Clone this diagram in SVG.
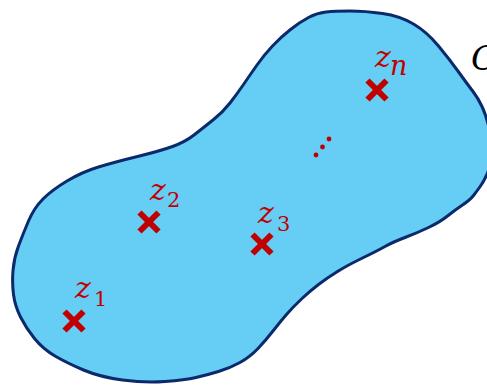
<svg xmlns="http://www.w3.org/2000/svg" width="487" height="385" viewBox="0 0 487 385">
<style>
.blob{fill:#66CDF5;stroke:#0B2A6B;stroke-width:3;stroke-linejoin:round}
.x{stroke:#C00000;stroke-width:6;stroke-linecap:butt}
.z{font-family:"DejaVu Serif",serif;font-style:italic;font-size:30px;fill:#C00000}
.sub{font-family:"DejaVu Serif",serif;font-size:21px;fill:#C00000}
.subi{font-family:"DejaVu Serif",serif;font-style:italic;font-size:27px;fill:#C00000}
.c{font-family:"DejaVu Serif",serif;font-style:italic;font-size:34px;fill:#000}
.dot{fill:#C00000}
</style>
<defs>
<g id="xm"><line class="x" x1="-9.5" y1="-9.5" x2="9.5" y2="9.5"/><line class="x" x1="-9.5" y1="9.5" x2="9.5" y2="-9.5"/></g>
</defs>
<g id="region">
<path class="blob" d="M308.5,17.5 Q317,13 326,12 Q335,11 350,11 Q365,11 382.5,13.5 Q400,16 413.5,24 Q427,32 438.5,46 Q450,60 459,72.5 Q468,85 473,91.5 Q478,98 482,106.5 Q486,115 489,127.5 Q492,140 491.5,152.5 Q491,165 487.5,173 Q484,181 480.5,186 Q477,191 473.5,195.5 Q470,200 462.5,205 Q455,210 447.5,216 Q440,222 428.5,227.5 Q417,233 405,237.5 Q393,242 385,246.5 Q377,251 362.5,258 Q348,265 337.5,271.5 Q327,278 318.5,284.5 Q310,291 301.5,299 Q293,307 286.5,314.5 Q280,322 273,331 Q266,340 258,348.5 Q250,357 240,362.5 Q230,368 218.5,371.5 Q207,375 196,377.5 Q185,380 165,381.5 Q145,383 122.5,380 Q100,377 83.5,370 Q67,363 55,356 Q43,349 34.5,338.5 Q26,328 20.5,317 Q15,306 13.5,294.5 Q12,283 13,270.5 Q14,258 18.5,246 Q23,234 28.5,221 Q34,208 43,199 Q52,190 67,181 Q82,172 98.5,167 Q115,162 137.5,156.5 Q160,151 172.5,146.5 Q185,142 194,135 Q203,128 213,120 Q223,112 230,103 Q237,94 243.5,84.5 Q250,75 257,65 Q264,55 272.5,46 Q281,37 290.5,29.5 Q300,22 308.5,17.5 Z"/>
</g>
<g id="label-C"><text class="c" x="471" y="70">C</text></g>
<g id="z1"><use href="#xm" x="74" y="321"/><text class="z" x="75" y="298">z</text><text class="sub" x="94" y="306">1</text></g>
<g id="z2"><use href="#xm" x="149" y="222"/><text class="z" x="150" y="200">z</text><text class="sub" x="167" y="207">2</text></g>
<g id="z3"><use href="#xm" x="262" y="244"/><text class="z" x="258" y="223">z</text><text class="sub" x="277" y="231">3</text></g>
<g id="zn"><use href="#xm" x="377" y="90"/><text class="z" x="375" y="67">z</text><text class="subi" x="390" y="75">n</text></g>
<g id="dots"><circle class="dot" cx="316" cy="155" r="2.4"/><circle class="dot" cx="322.5" cy="147" r="2.4"/><circle class="dot" cx="329" cy="139" r="2.4"/></g>
</svg>
